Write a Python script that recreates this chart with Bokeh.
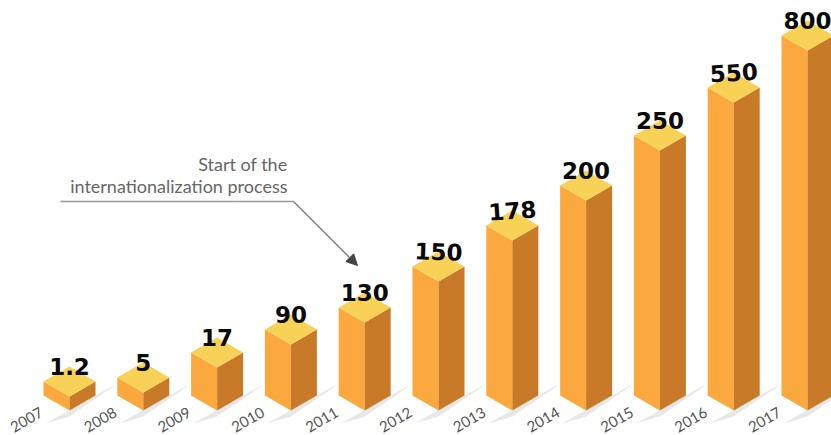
from bokeh.plotting import figure
from bokeh.models import Arrow, NormalHead
from bokeh.core.properties import value
from bokeh.embed import file_html
from bokeh.resources import INLINE
import math

years = [2007, 2008, 2009, 2010, 2011, 2012, 2013, 2014, 2015, 2016, 2017]
labels = ["1.2", "5", "17", "90", "130", "150", "178", "200", "250", "550", "800"]
# drawn height of each bar's front edge (not proportional to its label)
heights = [14, 18, 43, 66, 88, 129, 170, 210, 260, 308, 360]
label_tilt = [0, 0, 0, 0, 0, -2, 4, 0, 0, 3, 0]

STEP = 73.8        # pixels per year
HALF = 26 / STEP   # half bar width in years
DEPTH = 15         # isometric drop of the faces

def px(x):
    return 2007 + (x - 69) / STEP

p = figure(width=831, height=435, output_backend="svg", toolbar_location=None,
           x_range=(px(0), px(831)), y_range=(-25, 410),
           min_border=0, outline_line_color=None, background_fill_color="white")
p.axis.visible = False
p.grid.visible = False

# shadows
sx, sy = [], []
for yr in years:
    sx.append([yr - 24 / STEP, yr + 44 / STEP, yr + 44 / STEP, yr])
    sy.append([-13, 25, 24, -6])
p.patches(sx, sy, fill_color="#e8e8e8", line_color=None)

left_x, left_y, right_x, right_y, top_x, top_y = [], [], [], [], [], []
for yr, h in zip(years, heights):
    left_x.append([yr - HALF, yr, yr, yr - HALF])
    left_y.append([DEPTH, 0, h, h + DEPTH])
    right_x.append([yr, yr + HALF, yr + HALF, yr])
    right_y.append([0, DEPTH, h + DEPTH, h])
    top_x.append([yr - HALF, yr, yr + HALF, yr])
    top_y.append([h + DEPTH, h, h + DEPTH, h + 2 * DEPTH])
p.patches(left_x, left_y, fill_color="#FBA93F", line_color=None)
p.patches(right_x, right_y, fill_color="#C97A28", line_color=None)
p.patches(top_x, top_y, fill_color="#F8D256", line_color=None)

# value labels
p.text(x=years, y=[h + 30 for h in heights], text=labels,
       angle=[math.radians(a) for a in label_tilt],
       text_font=value("DejaVu Sans"), text_font_style="bold", text_font_size="23px",
       text_color="#0a0a0a", text_align="center", text_baseline="middle")

# year labels
p.text(x=[yr - 43 / STEP for yr in years], y=[-9] * len(years), text=[str(y) for y in years],
       angle=math.radians(30), text_font=value("Lato"), text_font_size="15px",
       text_color="#555555", text_align="center", text_baseline="middle")

# annotation
p.text(x=[px(287)] * 2, y=[410 - 163, 410 - 185],
       text=["Start of the", "internationalization process"],
       text_font=value("Lato"), text_font_size="18px", text_color="#666666",
       text_align="right", text_baseline="middle")
p.line([px(60), px(293)], [209, 209], line_color="#999999", line_width=1.5)
p.add_layout(Arrow(end=NormalHead(size=11, fill_color="#444444", line_color="#444444"),
                   x_start=px(293), y_start=209, x_end=px(357), y_end=145,
                   line_color="#777777", line_width=1.3))

open("out.html", "w").write(file_html(p, INLINE))
